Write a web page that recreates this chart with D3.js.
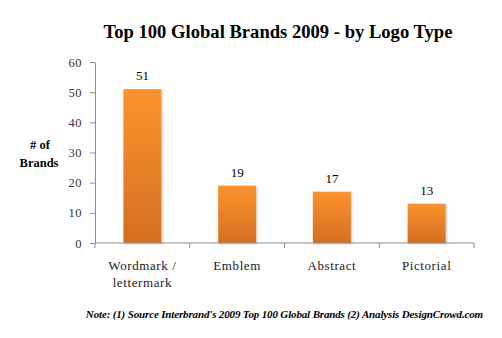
<!DOCTYPE html>
<html><head><meta charset="utf-8">
<script src="https://cdn.jsdelivr.net/npm/d3@7"></script>
<style>body{margin:0;background:#fff} svg text{font-family:"Liberation Serif","DejaVu Serif",serif}</style>
</head><body>
<svg id="c" width="502" height="338"></svg>
<script>
const categories = [["Wordmark /","lettermark"],["Emblem"],["Abstract"],["Pictorial"]];
const values = [51, 19, 17, 13];
const yTicks = [0,10,20,30,40,50,60];

const svg = d3.select("#c");
const x = d3.scaleBand().domain(d3.range(categories.length)).range([95,474]).paddingInner(0.6).paddingOuter(0.3);
const xTicksScale = d3.scaleBand().domain(d3.range(categories.length)).range([95,474]);
const y = d3.scaleLinear().domain([0,60]).range([243,62]);

const defs = svg.append("defs");
const g = defs.append("linearGradient").attr("id","bg").attr("x1",0).attr("y1",0).attr("x2",0).attr("y2",1);
g.append("stop").attr("offset","0%").attr("stop-color","#fc932e");
g.append("stop").attr("offset","100%").attr("stop-color","#d46f22");
const f = defs.append("filter").attr("id","sh").attr("x","-20%").attr("y","-20%").attr("width","140%").attr("height","140%");
f.append("feDropShadow").attr("dx",1).attr("dy",1).attr("stdDeviation",1).attr("flood-color","#000").attr("flood-opacity",0.25);

svg.append("text").attr("x",278).attr("y",38).attr("text-anchor","middle")
  .attr("font-weight","bold").attr("font-size",18.6).attr("fill","#000")
  .text("Top 100 Global Brands 2009 - by Logo Type");

svg.selectAll("rect.bar").data(values).join("rect").attr("class","bar")
  .attr("x",(d,i)=>x(i)).attr("width",x.bandwidth())
  .attr("y",d=>y(d)).attr("height",d=>y(0)-y(d))
  .attr("fill","url(#bg)").attr("filter","url(#sh)");

svg.selectAll("text.val").data(values).join("text").attr("class","val")
  .attr("x",(d,i)=>x(i)+x.bandwidth()/2).attr("y",d=>y(d)-9)
  .attr("text-anchor","middle").attr("font-size",13).attr("fill","#000")
  .text(d=>d);

const ya = svg.append("g").attr("transform","translate(95,0)")
  .call(d3.axisLeft(y).tickValues(yTicks).tickSize(5).tickSizeOuter(0));
ya.attr("font-family",null);
ya.select(".domain").attr("stroke","#8c8c8c");
ya.selectAll(".tick line").attr("stroke","#8c8c8c");
ya.selectAll(".tick text").attr("font-size",12.5).attr("fill","#333").attr("x",-13).attr("letter-spacing","0.5");

const xa = svg.append("g").attr("transform","translate(0,243)");
xa.append("line").attr("x1",95).attr("x2",474).attr("stroke","#8c8c8c");
const bounds = d3.range(categories.length+1).map(i=> i<categories.length ? xTicksScale(i) : 474);
xa.selectAll("line.tk").data(bounds).join("line").attr("class","tk")
  .attr("x1",d=>d).attr("x2",d=>d).attr("y1",0).attr("y2",5).attr("stroke","#8c8c8c");

const cl = svg.selectAll("text.cat").data(categories).join("text").attr("class","cat")
  .attr("x",(d,i)=>x(i)+x.bandwidth()/2).attr("y",270)
  .attr("text-anchor","middle").attr("font-size",13).attr("fill","#222").attr("letter-spacing","0.6");
cl.each(function(d){
  const t = d3.select(this);
  d.forEach((s,k)=>t.append("tspan").attr("x",t.attr("x")).attr("dy",k?17:0).text(s));
});

const yl = svg.append("text").attr("font-weight","bold").attr("font-size",12.5).attr("text-anchor","middle").attr("fill","#000");
yl.append("tspan").attr("x",40).attr("y",149).text("# of");
yl.append("tspan").attr("x",39).attr("y",167).text("Brands");

svg.append("text").attr("x",483).attr("y",318).attr("text-anchor","end")
  .attr("font-style","italic").attr("font-weight","bold").attr("font-size",11).attr("letter-spacing","-0.15").attr("fill","#000")
  .text("Note: (1) Source Interbrand's 2009 Top 100 Global Brands (2) Analysis DesignCrowd.com");
</script>
</body></html>
